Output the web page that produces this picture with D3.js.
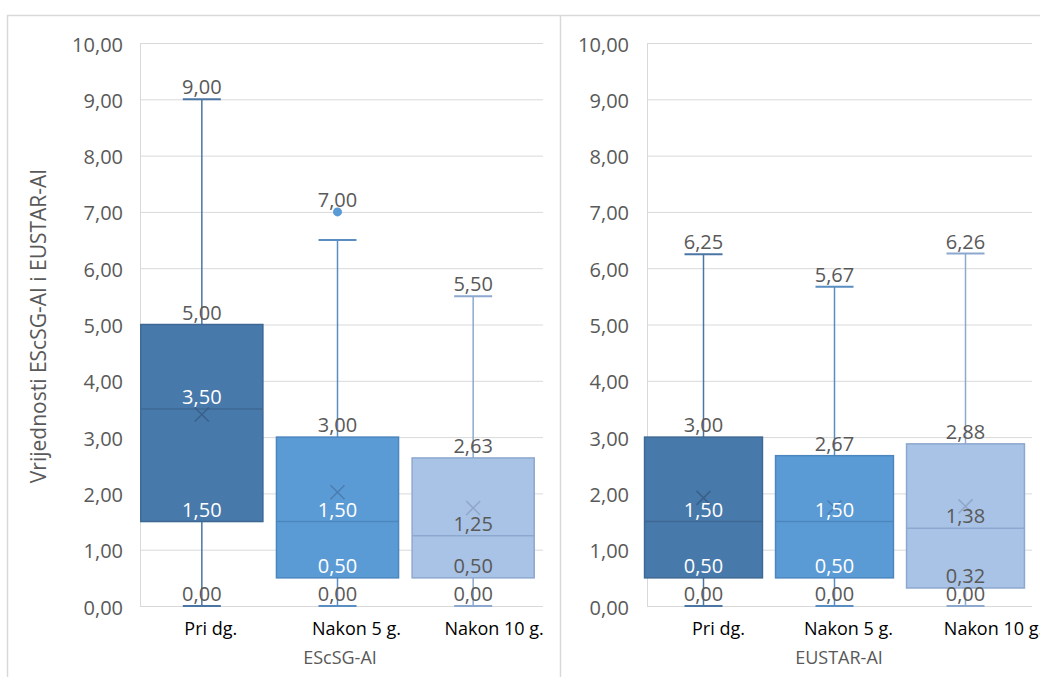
<!DOCTYPE html>
<html>
<head>
<meta charset="utf-8">
<script src="https://cdn.jsdelivr.net/npm/d3@7"></script>
<style>
  html, body { margin: 0; padding: 0; background: #fff; }
  svg { display: block; font-family: "Open Sans", "Noto Sans", sans-serif; }
</style>
</head>
<body>
<svg id="chart" width="1040" height="677"></svg>
<script>
// ---------- data ----------
const categories = ["Pri dg.", "Nakon 5 g.", "Nakon 10 g."];
const yTicks = [0, 1, 2, 3, 4, 5, 6, 7, 8, 9, 10];

// EScSG-AI
const escsgMin    = [0.00, 0.00, 0.00];
const escsgQ1     = [1.50, 0.50, 0.50];
const escsgMedian = [3.50, 1.50, 1.25];
const escsgQ3     = [5.00, 3.00, 2.63];
const escsgMax    = [9.00, 6.50, 5.50];
const escsgMean   = [3.40, 2.02, 1.74];
const escsgOutliers = [[], [7.00], []];

// EUSTAR-AI
const eustarMin    = [0.00, 0.00, 0.00];
const eustarQ1     = [0.50, 0.50, 0.32];
const eustarMedian = [1.50, 1.50, 1.38];
const eustarQ3     = [3.00, 2.67, 2.88];
const eustarMax    = [6.25, 5.67, 6.26];
const eustarMean   = [1.92, 1.75, 1.77];
const eustarOutliers = [[], [], []];

const yAxisTitle = "Vrijednosti EScSG-AI i EUSTAR-AI";
const panelTitles = ["EScSG-AI", "EUSTAR-AI"];

// ---------- styles ----------
const fills    = ["#4879AB", "#5B9BD5", "#A9C3E6"];
const strokes  = ["#3D6893", "#4B86BE", "#8DA8CF"];
const whiskerC = ["#4A76A3", "#5A8DC2", "#8DA8CF"];
const meanC    = ["#3A6089", "#4A7DB0", "#8EA6C8"];
const innerLabelC = ["#ffffff", "#ffffff", "#595959"];
const textGray = "#595959";
const gridC = "#d9d9d9";

const svg = d3.select("#chart");
const fmt = v => d3.format(".2f")(v).replace(".", ",");

const y = d3.scaleLinear().domain([0, 10]).range([606, 43]);

// chart frame
svg.append("rect").attr("x", 7.5).attr("y", 15.5).attr("width", 1100).attr("height", 700)
  .attr("fill", "none").attr("stroke", gridC).attr("stroke-width", 1.5);
svg.append("line").attr("x1", 560.5).attr("x2", 560.5).attr("y1", 15.5).attr("y2", 677)
  .attr("stroke", gridC).attr("stroke-width", 1.5);

const panels = [
  { plotL: 140, plotR: 543, band: [134, 541], tickX: 123, labelShift: [9, 19, 21], titleX: 340,
    min: escsgMin, q1: escsgQ1, med: escsgMedian, q3: escsgQ3, max: escsgMax, mean: escsgMean, out: escsgOutliers },
  { plotL: 647, plotR: 1032, band: [638, 1031], tickX: 629, labelShift: [15, 14, 28], titleX: 839,
    min: eustarMin, q1: eustarQ1, med: eustarMedian, q3: eustarQ3, max: eustarMax, mean: eustarMean, out: eustarOutliers }
];

panels.forEach((p, pi) => {
  const g = svg.append("g");
  const x = d3.scaleBand().domain(categories).range(p.band).paddingInner(0.1).paddingOuter(0.05);
  const bw = x.bandwidth();

  // gridlines via axis
  const grid = d3.axisLeft(y).tickValues(yTicks).tickSize(-(p.plotR - p.plotL)).tickFormat("");
  const gg = g.append("g").attr("transform", `translate(${p.plotL},0)`).call(grid);
  gg.select(".domain").remove();
  gg.selectAll("line").attr("stroke", gridC).attr("stroke-width", 1);
  // left plot border
  g.append("line").attr("x1", p.plotL + 0.5).attr("x2", p.plotL + 0.5).attr("y1", y(10)).attr("y2", y(0))
    .attr("stroke", gridC);

  // tick labels
  const ax = d3.axisLeft(y).tickValues(yTicks).tickSize(0).tickPadding(0).tickFormat(fmt);
  const ag = g.append("g").attr("transform", `translate(${p.tickX},0)`).call(ax);
  ag.select(".domain").remove();
  ag.selectAll("text").attr("fill", textGray).style("font-size", "20px")
    .attr("font-family", "'Open Sans', sans-serif").attr("dy", "0.4em");

  categories.forEach((c, i) => {
    const cx = x(c) + bw / 2;
    const capW = 38;
    const hasOut = p.out[i].length > 0;
    // whiskers
    g.append("line").attr("x1", cx).attr("x2", cx).attr("y1", y(p.max[i])).attr("y2", y(p.q3[i]))
      .attr("stroke", whiskerC[i]).attr("stroke-width", 1.5);
    g.append("line").attr("x1", cx).attr("x2", cx).attr("y1", y(p.q1[i])).attr("y2", y(p.min[i]))
      .attr("stroke", whiskerC[i]).attr("stroke-width", 1.5);
    [p.max[i], p.min[i]].forEach(v => {
      g.append("line").attr("x1", cx - capW / 2).attr("x2", cx + capW / 2).attr("y1", y(v)).attr("y2", y(v))
        .attr("stroke", whiskerC[i]).attr("stroke-width", 2);
    });
    // box
    g.append("rect").attr("x", x(c)).attr("y", y(p.q3[i])).attr("width", bw)
      .attr("height", y(p.q1[i]) - y(p.q3[i]))
      .attr("fill", fills[i]).attr("stroke", strokes[i]).attr("stroke-width", 1.5);
    // median
    g.append("line").attr("x1", x(c)).attr("x2", x(c) + bw).attr("y1", y(p.med[i])).attr("y2", y(p.med[i]))
      .attr("stroke", strokes[i]).attr("stroke-width", 1.5);
    // mean marker
    const my = y(p.mean[i]), s = 7;
    g.append("path").attr("d", `M${cx - s},${my - s}L${cx + s},${my + s}M${cx - s},${my + s}L${cx + s},${my - s}`)
      .attr("stroke", meanC[i]).attr("stroke-width", 1.5).attr("fill", "none");
    // outliers
    p.out[i].forEach(v => {
      g.append("circle").attr("cx", cx).attr("cy", y(v)).attr("r", 4.5).attr("fill", "#5B9BD5");
    });

    // labels
    const lbl = (v, col) => g.append("text").attr("x", cx).attr("y", y(v) - 5)
      .attr("text-anchor", "middle").attr("fill", col).style("font-size", "20px").text(fmt(v));
    lbl(p.min[i], textGray);
    lbl(p.q1[i], innerLabelC[i]);
    lbl(p.med[i], innerLabelC[i]);
    lbl(p.q3[i], textGray);
    if (hasOut) p.out[i].forEach(v => lbl(v, textGray));
    else lbl(p.max[i], textGray);

    // category label
    g.append("text").attr("x", cx + p.labelShift[i]).attr("y", 635).attr("text-anchor", "middle")
      .attr("fill", "#000").style("font-size", "18px").text(c);
  });

  // panel x title
  g.append("text").attr("x", p.titleX).attr("y", 664).attr("text-anchor", "middle")
    .attr("fill", textGray).style("font-size", "18px").text(panelTitles[pi]);
});

// y-axis title
svg.append("text").attr("transform", "translate(46,326) rotate(-90)").attr("text-anchor", "middle")
  .attr("fill", textGray).style("font-size", "21px").text(yAxisTitle);
</script>
</body>
</html>
